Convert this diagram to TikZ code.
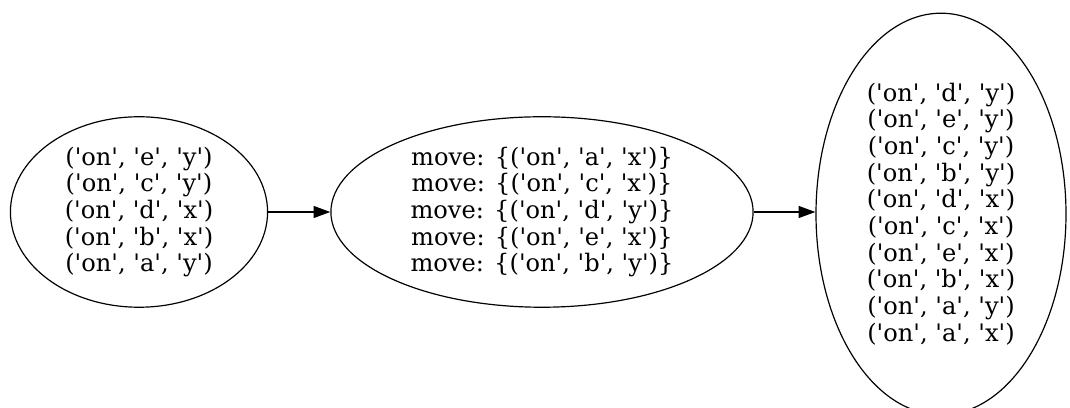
\documentclass[tikz,border=0pt]{standalone}
\usepackage{fontspec}
\setmainfont{DejaVu Serif}
\usetikzlibrary{shapes.geometric,arrows.meta}
\newcommand{\Q}[1]{\textquotesingle#1\textquotesingle}
\newcommand{\T}[2]{(\Q{on}, \Q{#1}, \Q{#2})}
\tikzset{
  state/.style={draw, ellipse, inner sep=0pt, line width=0.75pt, align=center,
    font=\fontsize{15.2}{16.8}\selectfont},
  conn/.style={line width=0.75pt, -{Triangle[length=10.5pt,width=7.5pt]}}
}
\begin{document}
\begin{tikzpicture}[x=0.63pt,y=0.63pt]
\useasboundingbox (0,0) rectangle (1070,408);
\node[state, minimum width=162pt, minimum height=120pt] (a) at (139,196)
  {\T{e}{y}\\\T{c}{y}\\\T{d}{x}\\\T{b}{x}\\\T{a}{y}};
\node[state, minimum width=266pt, minimum height=120pt] (b) at (542,196)
  {move: \{\T{a}{x}\}\\move: \{\T{c}{x}\}\\move: \{\T{d}{y}\}\\move: \{\T{e}{x}\}\\move: \{\T{b}{y}\}};
\node[state, minimum width=157.5pt, minimum height=253pt] (c) at (941,194)
  {\T{d}{y}\\\T{e}{y}\\\T{c}{y}\\\T{b}{y}\\\T{d}{x}\\\T{c}{x}\\\T{e}{x}\\\T{b}{x}\\\T{a}{y}\\\T{a}{x}};
\draw[conn] (a.east) -- (b.west);
\draw[conn] (b.east) -- (c.west |- b.east);
\end{tikzpicture}
\end{document}
